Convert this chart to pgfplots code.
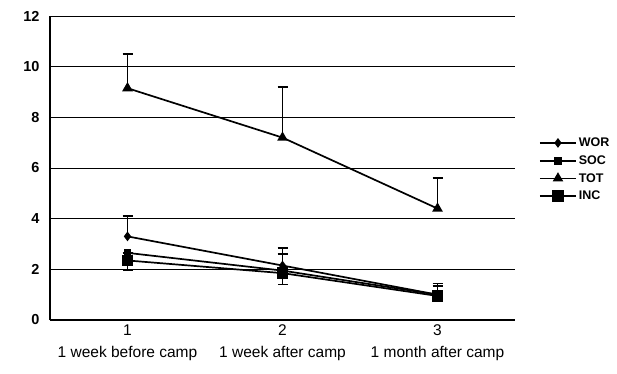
\documentclass[border=0pt]{standalone}
\usepackage{pgfplots}
\pgfplotsset{compat=1.18}
\usepackage{fontspec}
\setmainfont{Liberation Sans}
\begin{document}
\begin{tikzpicture}[x=1pt,y=1pt]
\path[use as bounding box] (0,0) rectangle (617,373);
\begin{axis}[
  at={(50pt,53pt)}, anchor=south west,
  scale only axis, width=465pt, height=304pt,
  xmin=0.5, xmax=3.5, ymin=0, ymax=12,
  axis x line*=bottom, axis y line*=left,
  axis line style={-, line width=1.2pt},
  ytick={0,2,...,12},
  ymajorgrids, grid style={black, line width=1pt},
  ytick style={draw=none},
  yticklabel style={font=\fontsize{14.5}{15}\selectfont\bfseries, xshift=-7pt},
  /pgf/number format/assume math mode=true,
  xtick={1,2,3},
  xticklabels={{1\\1 week before camp},{2\\1 week after camp},{3\\1 month after camp}},
  xticklabel style={align=center, font=\fontsize{15.5}{22}\selectfont, yshift=-1pt},
  major x tick style={draw=none},
  extra x ticks={1.5,2.5,3.5},
  extra x tick labels={},
  extra x tick style={major tick length=5pt, tick style={black, line width=1pt, draw=black}, grid=none},
  legend style={at={(1.045,0.495)}, anchor=west, draw=none, fill=none,
    font=\fontsize{12.5}{13}\selectfont\bfseries, row sep=3.5pt, cells={anchor=west}},
  legend image code/.code={\draw[mark repeat=2,mark phase=2,#1] plot coordinates {(0pt,0pt)(18pt,0pt)(36pt,0pt)};},
]
\addplot[black, line width=1.7pt, mark=diamond*, mark size=3.5pt, mark options={solid, fill=black},
  error bars/.cd, y dir=plus, y explicit,
  error bar style={line width=1.5pt, black},
  error mark options={rotate=90, mark size=5pt, line width=1.5pt, black}]
  coordinates {(1,3.3) +- (0,0.8) (2,2.15) +- (0,0.7) (3,1.0) +- (0,0.45)};
\addlegendentry{WOR}
\addplot[black, line width=1.7pt, mark=square*, mark size=3pt, mark options={solid, fill=black},
  error bars/.cd, y dir=plus, y explicit,
  error bar style={line width=1.5pt, black},
  error mark options={rotate=90, mark size=5pt, line width=1.5pt, black}]
  coordinates {(1,2.65) +- (0,0) (2,1.95) +- (0,0.65) (3,1.0) +- (0,0.35)};
\addlegendentry{SOC}
\addplot[black, line width=1.7pt, mark=triangle*, mark size=4.5pt, mark options={solid, fill=black},
  error bars/.cd, y dir=plus, y explicit,
  error bar style={line width=1.5pt, black},
  error mark options={rotate=90, mark size=5pt, line width=1.5pt, black}]
  coordinates {(1,9.15) +- (0,1.35) (2,7.2) +- (0,2.0) (3,4.4) +- (0,1.2)};
\addlegendentry{TOT}
\addplot[black, line width=1.7pt, mark=square*, mark size=5pt, mark options={solid, fill=black},
  error bars/.cd, y dir=minus, y explicit,
  error bar style={line width=1.5pt, black},
  error mark options={rotate=90, mark size=5pt, line width=1.5pt, black}]
  coordinates {(1,2.35) +- (0,0.4) (2,1.85) +- (0,0.45) (3,0.95) +- (0,0)};
\addlegendentry{INC}
\end{axis}
\end{tikzpicture}
\end{document}
